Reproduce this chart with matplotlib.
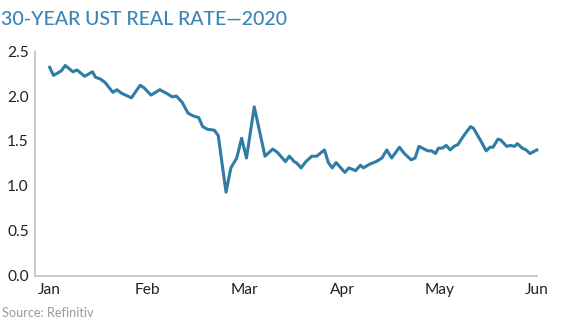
import matplotlib.pyplot as plt

# 30-year US Treasury real rate, Jan-May 2020 (x in months from start of January)
months = ['Jan', 'Feb', 'Mar', 'Apr', 'May', 'Jun']
x_pos = [0.00, 0.04, 0.12, 0.16, 0.24, 0.28, 0.36, 0.44, 0.47, 0.52,
         0.57, 0.65, 0.69, 0.74, 0.84, 0.89, 0.93, 0.97, 1.04, 1.13,
         1.20, 1.26, 1.30, 1.36, 1.42, 1.47, 1.53, 1.57, 1.62, 1.69,
         1.73, 1.81, 1.86, 1.92, 1.97, 2.02, 2.10, 2.21, 2.29, 2.34,
         2.42, 2.46, 2.51, 2.54, 2.58, 2.63, 2.69, 2.74, 2.82, 2.86,
         2.90, 2.94, 2.98, 3.03, 3.07, 3.14, 3.19, 3.22, 3.28, 3.35,
         3.41, 3.46, 3.51, 3.59, 3.64, 3.71, 3.75, 3.79, 3.88, 3.92,
         3.96, 3.99, 4.03, 4.07, 4.11, 4.15, 4.19, 4.25, 4.32, 4.35,
         4.42, 4.48, 4.52, 4.55, 4.60, 4.63, 4.69, 4.73, 4.77, 4.80,
         4.85, 4.89, 4.93, 5.00]
rate = [2.32, 2.23, 2.28, 2.34, 2.27, 2.29, 2.22, 2.27, 2.21, 2.19,
        2.15, 2.04, 2.07, 2.03, 1.98, 2.06, 2.12, 2.09, 2.01, 2.07,
        2.03, 1.99, 2.00, 1.93, 1.81, 1.78, 1.76, 1.66, 1.63, 1.62,
        1.56, 0.93, 1.20, 1.31, 1.53, 1.31, 1.88, 1.33, 1.41, 1.37,
        1.27, 1.33, 1.27, 1.25, 1.20, 1.27, 1.33, 1.33, 1.40, 1.26,
        1.20, 1.26, 1.21, 1.15, 1.20, 1.17, 1.23, 1.20, 1.24, 1.27,
        1.31, 1.40, 1.31, 1.43, 1.36, 1.29, 1.31, 1.44, 1.39, 1.39,
        1.36, 1.42, 1.42, 1.45, 1.40, 1.44, 1.46, 1.56, 1.66, 1.64,
        1.51, 1.39, 1.43, 1.43, 1.52, 1.51, 1.44, 1.45, 1.44, 1.47,
        1.42, 1.40, 1.36, 1.40]
y_ticks = [0.0, 0.5, 1.0, 1.5, 2.0, 2.5]

plt.rcParams['font.family'] = ['Lato', 'DejaVu Sans']

fig = plt.figure(figsize=(5.62, 3.31), dpi=100)
ax = fig.add_axes([0.0623, 0.167, 0.893, 0.6786])

ax.plot(x_pos, rate, color='#2f7ca6', linewidth=2.2, clip_on=False,
        solid_joinstyle='round')

ax.set_xlim(-0.15, 4.89)
ax.set_ylim(0, 2.5)
ax.set_xticks(range(len(months)))
ax.set_xticklabels(months)
ax.set_yticks(y_ticks)
ax.set_yticklabels([f'{v:.1f}' for v in y_ticks])
ax.tick_params(length=0, labelsize=11.2, colors='#222222')
ax.tick_params(axis='y', pad=4.5)
ax.tick_params(axis='x', pad=5.5)
for lbl in ax.get_xticklabels():
    lbl.set_clip_on(False)

for side in ['top', 'right']:
    ax.spines[side].set_visible(False)
for side in ['left', 'bottom']:
    ax.spines[side].set_color('#bbbbbb')
    ax.spines[side].set_linewidth(1.1)

fig.text(0.002, 0.94, '30-YEAR UST REAL RATE\u20142020', color='#3a86b2',
         fontsize=14, fontweight='medium', va='center', ha='left')
fig.text(0.004, 0.055, 'Source: Refinitiv', color='#9a9a9a', fontsize=9.2,
         va='center', ha='left')

fig.savefig('out.png', dpi=100)
